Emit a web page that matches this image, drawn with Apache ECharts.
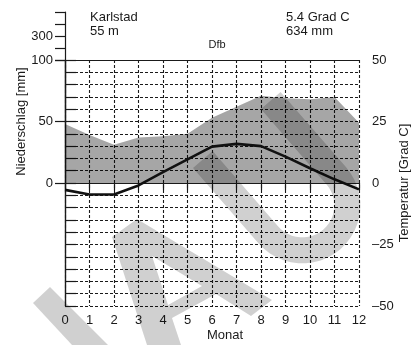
<!DOCTYPE html>
<html>
<head>
<meta charset="utf-8">
<script src="https://cdn.jsdelivr.net/npm/echarts@6/dist/echarts.min.js"></script>
<style>
  html, body { margin: 0; padding: 0; background: #fff; }
  #klima { width: 411px; height: 345px; }
</style>
</head>
<body>
<div id="klima"></div>
<script>
// Karlstad, Dfb
var monate = [0, 1, 2, 3, 4, 5, 6, 7, 8, 9, 10, 11, 12];
var niederschlag = [48, 39, 31, 37, 38, 40, 53, 62, 71, 69, 68, 70, 49];
var temperatur = [-2.8, -4.7, -4.7, -1.0, 4.4, 9.6, 14.8, 15.9, 15.0, 10.7, 6.0, 1.5, -2.6];
var tempLabels = [50, 25, 0, -25, -50];
var mmLabelsOben = [300];

var FONT = "'Liberation Sans', Arial, sans-serif";
var INK = '#1a1a1a';

var chart = echarts.init(document.getElementById('klima'));

// watermark shapes (background decoration, not data)
function uForm(ox, oy, deg, w, t, len) {
    var a = deg * Math.PI / 180;
    var u = [Math.cos(a), Math.sin(a)], v = [Math.sin(a), -Math.cos(a)];
    var R = w / 2, r = R - t, pts = [], i, th;
    function P(s, q) { return [ox + u[0] * s + v[0] * q, oy + u[1] * s + v[1] * q]; }
    pts.push(P(0, 0));
    for (i = 0; i <= 24; i++) {
        th = -Math.PI / 2 + Math.PI * i / 24;
        pts.push(P(len + R * Math.cos(th), R + R * Math.sin(th)));
    }
    pts.push(P(0, w));
    pts.push(P(0, w - t));
    for (i = 24; i >= 0; i--) {
        th = -Math.PI / 2 + Math.PI * i / 24;
        pts.push(P(len + r * Math.cos(th), R + r * Math.sin(th)));
    }
    pts.push(P(0, t));
    return pts;
}
var wmFill = 'rgba(0,0,0,0.184)';

function axisLineOnly() {
    return {
        axisLine: { show: true, lineStyle: { color: INK, width: 1.2 } },
        axisTick: { show: false },
        axisLabel: { show: false },
        splitLine: { show: false }
    };
}

chart.setOption({
    animation: false,
    grid: [
        { left: 65, right: 52, top: 60, bottom: 39, outerBoundsMode: 'none' },
        { left: 65, right: 52, top: 60, height: 123, outerBoundsMode: 'none' },
        { left: 65, right: 52, top: 12, height: 48, outerBoundsMode: 'none' }
    ],
    xAxis: [
        {
            gridIndex: 0, type: 'value', min: 0, max: 12, interval: 1,
            axisLine: { show: true, lineStyle: { color: INK, width: 1.2 } },
            axisTick: { show: true, length: 7, lineStyle: { color: INK, width: 1.2 } },
            axisLabel: { show: true, margin: 8, color: INK, fontSize: 13, fontFamily: FONT },
            splitLine: { show: true, lineStyle: { color: INK, width: 1.1, type: [3, 2] } }
        },
        Object.assign({ gridIndex: 1, type: 'value', min: 0, max: 12, position: 'bottom' }, axisLineOnly()),
        Object.assign({ gridIndex: 2, type: 'value', min: 0, max: 12, position: 'bottom' }, axisLineOnly())
    ],
    yAxis: [
        {
            gridIndex: 0, type: 'value', position: 'right', min: -50, max: 50, interval: 5,
            name: 'Temperatur [Grad C]', nameLocation: 'middle', nameRotate: 90, nameGap: 39,
            nameMoveOverlap: false,
            nameTextStyle: { color: INK, fontSize: 13, fontFamily: FONT },
            axisLine: { show: true, lineStyle: { color: INK, width: 1.2 } },
            axisTick: { show: true, length: 11, lineStyle: { color: INK, width: 1.2 } },
            axisLabel: {
                show: true, margin: 13, color: INK, fontSize: 13, fontFamily: FONT,
                formatter: function (v) {
                    if (tempLabels.indexOf(v) < 0) return '';
                    return v < 0 ? '\u2013' + Math.abs(v) : String(v);
                }
            },
            splitLine: { show: true, lineStyle: { color: INK, width: 1.1, type: [3, 2] } }
        },
        {
            gridIndex: 1, type: 'value', position: 'left', min: 0, max: 100, interval: 50,
            name: 'Niederschlag [mm]', nameLocation: 'middle', nameRotate: 90, nameGap: 37,
            nameMoveOverlap: false,
            nameTextStyle: { color: INK, fontSize: 13, fontFamily: FONT },
            axisLine: { show: true, lineStyle: { color: INK, width: 1.2 } },
            axisTick: { show: true, length: 10, lineStyle: { color: INK, width: 1.2 } },
            axisLabel: { show: true, margin: 12, color: INK, fontSize: 13, fontFamily: FONT },
            splitLine: { show: false }
        },
        Object.assign({ gridIndex: 0, type: 'value', position: 'left', min: -50, max: 50 }, axisLineOnly()),
        {
            gridIndex: 2, type: 'value', position: 'left', min: 100, max: 500, interval: 100,
            axisLine: { show: true, lineStyle: { color: INK, width: 1.2 } },
            axisTick: { show: true, length: 10, lineStyle: { color: INK, width: 1.2 } },
            axisLabel: {
                show: true, margin: 12, color: INK, fontSize: 13, fontFamily: FONT,
                formatter: function (v) { return mmLabelsOben.indexOf(v) >= 0 ? String(v) : ''; }
            },
            splitLine: { show: false }
        }
    ],
    series: [
        {
            name: 'Niederschlag', type: 'line', xAxisIndex: 1, yAxisIndex: 1,
            data: monate.map(function (m, i) { return [m, niederschlag[i]]; }),
            symbol: 'none', smooth: false,
            lineStyle: { width: 0 },
            areaStyle: { color: 'rgba(0,0,0,0.35)', opacity: 1 },
            z: 2
        },
        {
            name: 'Temperatur', type: 'line', xAxisIndex: 0, yAxisIndex: 0,
            data: monate.map(function (m, i) { return [m, temperatur[i]]; }),
            symbol: 'none', smooth: false,
            lineStyle: { color: '#111', width: 2.6 },
            z: 5
        }
    ],
    graphic: [
        { type: 'text', silent: true, style: { text: 'Karlstad', x: 90, y: 17, textVerticalAlign: 'middle', font: '13px ' + FONT, fill: INK } },
        { type: 'text', silent: true, style: { text: '55 m', x: 90, y: 31, textVerticalAlign: 'middle', font: '13px ' + FONT, fill: INK } },
        { type: 'text', silent: true, style: { text: '5.4 Grad C', x: 286, y: 17, textVerticalAlign: 'middle', font: '13px ' + FONT, fill: INK } },
        { type: 'text', silent: true, style: { text: '634 mm', x: 286, y: 31, textVerticalAlign: 'middle', font: '13px ' + FONT, fill: INK } },
        { type: 'text', silent: true, style: { text: 'Dfb', x: 217, y: 45, textAlign: 'center', textVerticalAlign: 'middle', font: '11px ' + FONT, fill: INK } },
        { type: 'text', silent: true, style: { text: 'Monat', x: 225, y: 335, textAlign: 'center', textVerticalAlign: 'middle', font: '13px ' + FONT, fill: INK } },
        // watermark
        { type: 'polygon', silent: true, z: 50, shape: { points: [[33, 303], [50, 287], [108, 345], [72, 345]] }, style: { fill: wmFill } },
        { type: 'polygon', silent: true, z: 50, shape: { points: [
            [112, 237], [137, 219], [152, 256], [168, 305], [202, 286], [152, 256], [137, 219],
            [272, 300], [251, 316], [216, 294], [172, 318], [181, 345], [147, 345]
        ] }, style: { fill: wmFill } },
        { type: 'polygon', silent: true, z: 50, shape: { points: uForm(193, 168, 49, 116, 26, 100) }, style: { fill: wmFill } }
    ]
});
</script>
</body>
</html>
